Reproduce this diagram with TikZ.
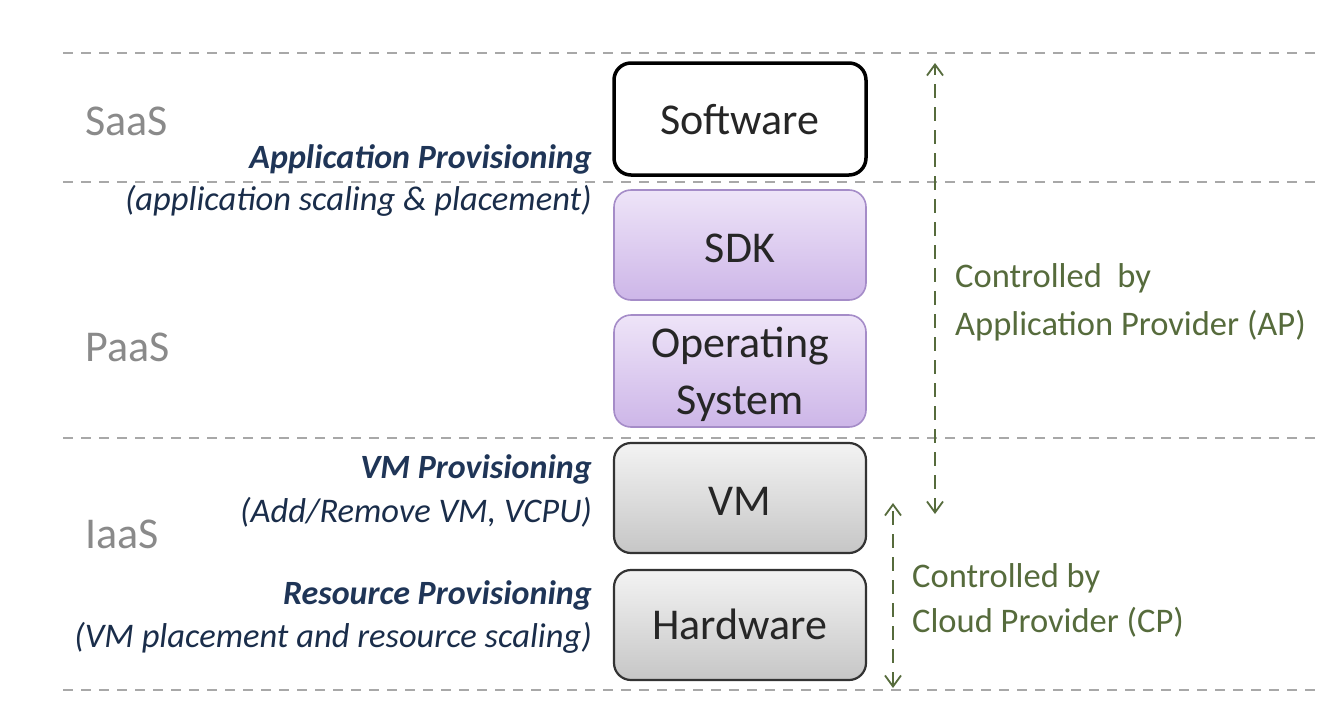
\documentclass[tikz,border=0pt]{standalone}
\usepackage{fontspec}
\setmainfont{Carlito}
\usetikzlibrary{arrows.meta}
\definecolor{layergray}{HTML}{8A8A8A}
\definecolor{provblue}{HTML}{1F3557}
\definecolor{ctrlgreen}{HTML}{566B3C}
\definecolor{guide}{HTML}{A8A8A8}
\definecolor{paasfill1}{HTML}{EEE4F8}
\definecolor{paasfill2}{HTML}{CDB6E8}
\definecolor{paasedge}{HTML}{A58CC8}
\definecolor{iaasfill1}{HTML}{F3F3F3}
\definecolor{iaasfill2}{HTML}{C6C6C6}
\tikzset{
  fs/.style={font=\fontsize{#1}{#1}\selectfont},
  layerlabel/.style={fs=44, text=layergray, anchor=base west, inner sep=0},
  provhead/.style={text=provblue, anchor=base east, inner sep=0, font=\fontsize{34}{34}\selectfont\bfseries\itshape},
  provnote/.style={text=provblue!85!black, anchor=base east, inner sep=0, font=\fontsize{34.5}{34.5}\selectfont\itshape},
  ctrltext/.style={fs=34.5, text=ctrlgreen, anchor=base west, inner sep=0},
  stackbox/.style={rounded corners=17pt, minimum width=252pt, inner sep=0},
  saasbox/.style={stackbox, draw=black, line width=3.5pt, fill=white},
  paasbox/.style={stackbox, draw=paasedge, line width=1.6pt, top color=paasfill1, bottom color=paasfill2},
  iaasbox/.style={stackbox, draw=black!80, line width=2.2pt, top color=iaasfill1, bottom color=iaasfill2},
  boxtext/.style={fs=44, text=black!85, anchor=base, inner sep=0},
  guideline/.style={guide, line width=1.8pt, dash pattern=on 10pt off 8pt},
  ctrlarrow/.style={ctrlgreen, line width=1.8pt, dash pattern=on 14pt off 9pt,
    {Straight Barb[length=11pt,width=16pt]}-{Straight Barb[length=11pt,width=16pt]}},
}
\begin{document}
\begin{tikzpicture}[x=1pt,y=-1pt]
\useasboundingbox (0,0) rectangle (1318,726);

% layer separators
\draw[guideline] (63,53) -- (1318,53);
\draw[guideline] (63,182) -- (1318,182);
\draw[guideline] (63,438) -- (1318,438);
\draw[guideline] (63,690) -- (1318,690);

% service layers
\node[layerlabel] (saas) at (85,135) {SaaS};
\node[layerlabel] (paas) at (85,361) {PaaS};
\node[layerlabel] (iaas) at (85,548) {IaaS};

% stack of components
\node[saasbox, minimum height=112pt] (sw) at (740,119) {};
\node[boxtext] at (740,134) {Software};
\node[paasbox, minimum height=110pt] (sdk) at (740,245) {};
\node[boxtext] at (740,262) {SDK};
\node[paasbox, minimum height=112pt] (os) at (740,371) {};
\node[boxtext] at (740,357) {Operating};
\node[boxtext] at (740,414) {System};
\node[iaasbox, minimum height=110pt] (vm) at (740,498) {};
\node[boxtext] at (740,515) {VM};
\node[iaasbox, minimum height=110pt] (hw) at (740,625) {};
\node[boxtext] at (740,639) {Hardware};

% provisioning labels
\node[provhead] (appprov) at (592,168) {Application Provisioning};
\node[provnote] (appnote) at (592,210) {(application scaling \& placement)};
\node[provhead] (vmprov) at (592,478) {VM Provisioning};
\node[provnote] (vmnote) at (592,522) {(Add/Remove VM, VCPU)};
\node[provhead] (resprov) at (592,604) {Resource Provisioning};
\node[provnote] (resnote) at (592,647) {(VM placement and resource scaling)};

% control ranges
\coordinate (apTop) at (935,63);
\coordinate (apBot) at (935,514);
\coordinate (cpTop) at (893,503);
\coordinate (cpBot) at (893,688);
\draw[ctrlarrow] (apBot) -- (apTop);
\draw[ctrlarrow] (cpBot) -- (cpTop);

\node[ctrltext] (ap1) at (955,287) {Controlled\ \ by};
\node[ctrltext] (ap2) at (955,335) {Application Provider (AP)};
\node[ctrltext] (cp1) at (912,587) {Controlled by};
\node[ctrltext] (cp2) at (912,632) {Cloud Provider (CP)};
\end{tikzpicture}
\end{document}
